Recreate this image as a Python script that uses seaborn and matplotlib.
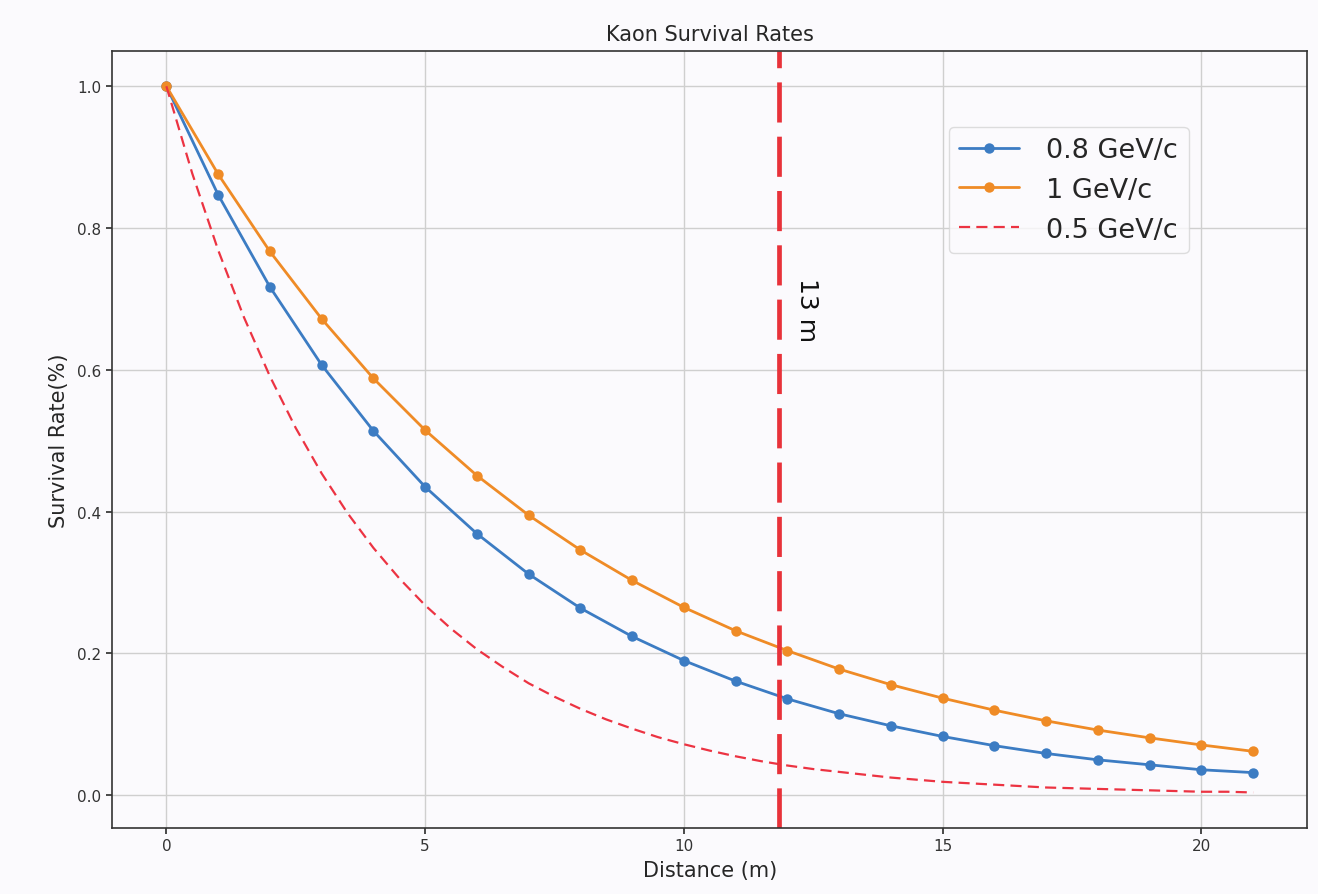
"""
Kaon survival rate against distance travelled, for three momenta
"""

import matplotlib
matplotlib.use('Agg')
import matplotlib.pyplot as plt
import pandas as pd
import seaborn as sns

# distance points (m) for the marked curves
distance = list(range(22))

# survival fraction
rate_08 = [1.000, 0.847, 0.717, 0.607, 0.514, 0.435, 0.369, 0.312, 0.264,
           0.224, 0.190, 0.161, 0.136, 0.115, 0.098, 0.083, 0.070, 0.059,
           0.050, 0.043, 0.036, 0.032]
rate_1 = [1.000, 0.876, 0.767, 0.672, 0.588, 0.515, 0.451, 0.395, 0.346,
          0.303, 0.265, 0.232, 0.204, 0.178, 0.156, 0.137, 0.120, 0.105,
          0.092, 0.081, 0.071, 0.062]

# the 0.5 GeV/c curve is drawn without markers, finer sampling
distance_fine = [i / 2 for i in range(43)]
rate_05 = [1.000, 0.877, 0.769, 0.674, 0.591, 0.518, 0.454, 0.398, 0.349,
           0.306, 0.268, 0.235, 0.206, 0.181, 0.158, 0.139, 0.122, 0.107,
           0.094, 0.082, 0.072, 0.063, 0.055, 0.048, 0.042, 0.037, 0.033,
           0.029, 0.025, 0.022, 0.019, 0.017, 0.015, 0.013, 0.011, 0.010,
           0.009, 0.008, 0.007, 0.006, 0.005, 0.005, 0.004]

cut_distance = 11.84
cut_label = '13 m'

bg = '#fbfafd'


def main():
    sns.set_theme(style='whitegrid', rc={
        'axes.facecolor': bg,
        'figure.facecolor': bg,
        'axes.edgecolor': '#333333',
        'axes.linewidth': 1.2,
        'grid.color': '#cfcfcf',
        'grid.linewidth': 1.0,
        'xtick.bottom': True,
        'ytick.left': True,
        'xtick.major.size': 4,
        'ytick.major.size': 4,
        'xtick.color': '#333333',
        'ytick.color': '#333333',
    })
    plt.rcParams['font.family'] = ['DejaVu Sans']

    fig, ax = plt.subplots(figsize=(13.18, 8.95), dpi=100)
    fig.subplots_adjust(left=0.085, right=0.992, top=0.942, bottom=0.074)

    df08 = pd.DataFrame({'d': distance, 'r': rate_08})
    df1 = pd.DataFrame({'d': distance, 'r': rate_1})
    df05 = pd.DataFrame({'d': distance_fine, 'r': rate_05})

    sns.lineplot(x='d', y='r', data=df08, ax=ax, color='#3c7cc3',
                 marker='o', markersize=7.5, markeredgewidth=0, linewidth=2,
                 label='0.8 GeV/c')
    sns.lineplot(x='d', y='r', data=df1, ax=ax, color='#ef8b26',
                 marker='o', markersize=7.5, markeredgewidth=0, linewidth=2,
                 label='1 GeV/c')
    sns.lineplot(x='d', y='r', data=df05, ax=ax, color='#ec3342',
                 linestyle=(0, (5, 2.8)), linewidth=1.6, label='0.5 GeV/c')

    # cut line
    ax.axvline(cut_distance, color='#e8323a', linewidth=3.4,
               linestyle=(0, (8.5, 3)))
    ax.text(cut_distance + 0.3, 0.686, cut_label, rotation=270,
            fontsize=18, va='center', ha='left', color='#111111')

    ax.set_title('Kaon Survival Rates', fontsize=15, pad=8)
    ax.set_xlabel('Distance (m)', fontsize=15, labelpad=5)
    ax.set_ylabel('Survival Rate(%)', fontsize=15, labelpad=6)
    ax.tick_params(labelsize=11)
    ax.set_xticks([0, 5, 10, 15, 20])
    ax.set_yticks([0.0, 0.2, 0.4, 0.6, 0.8, 1.0])

    ax.legend(loc='upper right', bbox_to_anchor=(0.912, 0.92), fontsize=19.5,
              labelspacing=0.5, handlelength=2.2, handletextpad=1.0,
              frameon=True, facecolor=bg, edgecolor='#d5d5d5')

    plt.savefig('out.png', dpi=100)


if __name__ == '__main__':
    main()
